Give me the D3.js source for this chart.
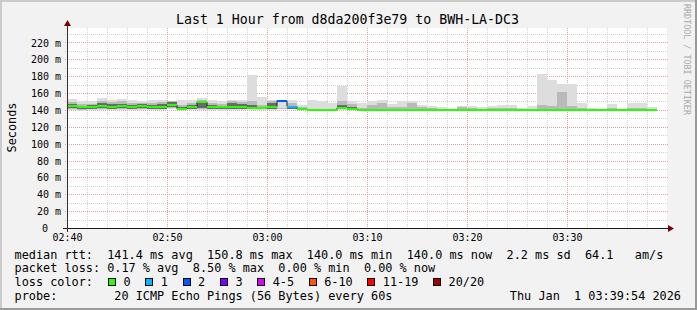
<!DOCTYPE html>
<html><head><meta charset="utf-8">
<script src="https://cdn.jsdelivr.net/npm/d3@7"></script>
<style>
html,body{margin:0;padding:0;background:#f2f2f2;}
svg{display:block;}
text{font-family:"DejaVu Sans Mono",monospace;fill:#000;white-space:pre;}
</style></head><body>
<svg id="c" width="697" height="310" xml:space="preserve"></svg>
<script>
// ---------------- data ----------------
const titleText = "Last 1 Hour from d8da200f3e79 to BWH-LA-DC3";
const yAxisTitle = "Seconds";
const watermark = "RRDTOOL / TOBI OETIKER";
const startTime = new Date(2026, 0, 1, 2, 40);
const endTime = new Date(2026, 0, 1, 3, 40);
const yMaxMs = 237.1;
const yTicks = [0, 20, 40, 60, 80, 100, 120, 140, 160, 180, 200, 220];
const xTickLabels = ["02:40", "02:50", "03:00", "03:10", "03:20", "03:30"];

// one value per minute, 02:40 .. 03:38 (ms)
const medianRtt = [144.5,143.0,143.5,145.0,144.0,144.5,143.0,144.5,143.0,144.0,
                   146.0,141.5,144.0,149.5,144.0,144.0,144.0,144.0,142.5,142.0,
                   143.5,150.8,144.0,141.5,140.3,140.0,140.0,142.5,141.5,140.0,
                   140.0,140.0,140.0,140.0,140.0,140.0,140.0,140.0,140.0,140.0,
                   140.0,140.0,140.0,140.0,140.0,140.0,140.0,140.0,140.0,140.0,
                   140.0,140.0,140.0,140.0,140.0,140.0,140.0,140.0,140.0];
const lostPings = [0,0,0,0,0,0,0,0,0,0, 0,0,0,0,0,0,0,0,0,0,
                   0,2,1,0,0,0,0,0,0,0, 0,0,0,0,0,0,0,0,0,0,
                   0,0,0,0,0,0,0,0,0,0, 0,0,0,0,0,0,0,0,0];
const smokeMax = [153,151,150.5,154,151.5,153,151.5,151,151.5,151.5,
                  151,151.5,151.5,154,151.5,150,151.5,151.5,181,155,
                  151.5,151,151.5,146,152,150.5,148,168,150.5,148.6,
                  150.5,151.7,147,150,150.5,146,144.7,143,141.5,145,
                  145,143.8,145,146,146,142,145,183,175.5,170.7,
                  170.7,148.6,142,140.5,147,140.5,148.6,148.6,143.5];
const smokeMin = [140,138.5,139.5,140,140,140,139.5,140,140,140,
                  140.5,139.5,140,140,140,138.5,140,140,140,139.5,
                  140,140.5,140.5,139.8,139.5,139.5,139.5,140,139.8,139.6,
                  139.6,139.6,139.6,139.6,139.6,139.6,139.6,139.6,139.6,139.6,
                  139.6,139.6,139.6,139.6,139.6,139.6,139.6,139.6,139.6,139.6,
                  139.6,139.6,139.6,139.6,139.6,139.6,139.6,139.6,139.6];
const smokeP90 = [149,147,147.5,150,149,150,148.5,148,148.5,149,
                  150,146,148,152,148,147,150,149,150,146,
                  150,142,148,144,141,141,141,150,147,142,
                  146,148,143,144,148,143,142,141,140.5,143,
                  142,141,142,142,142,141,141,146,145,160.8,
                  145,142,141,140.2,142,140.2,142,142,141];
const smokeP10 = [141,140,141,141,141,141,141,141,141,141,
                  142,140,141,141.5,141,140.5,140.5,141,141,140.5,
                  140.5,141,141.5,140.5,139.8,139.8,139.8,141,140.5,139.8,
                  139.8,139.8,139.8,139.8,139.8,139.8,139.8,139.8,139.8,139.8,
                  139.8,139.8,139.8,139.8,139.8,139.8,139.8,139.8,139.8,139.8,
                  139.8,139.8,139.8,139.8,139.8,139.8,139.8,139.8,139.8];
const smokeP75 = [146.5,145,146,148,147,147.5,146,146.5,146,146.5,
                  149,143,146,150,146,145,148,147,146,144,
                  148,141.5,142.5,141.5,140.3,140,140,146,144,140,
                  140,140,140,140,140,140,140,140,140,140,
                  140,140,140,140,140,140,140,140,140,140,
                  140,140,140,140,140,140,140,140,140];
const smokeP25 = [142,141,141.5,142,141.5,142,141.5,142,141.5,141.5,
                  143,140.5,141.5,142.5,141.5,141,141,141.5,141.5,141,
                  141,141,141.5,140.5,140.3,140,140,141.5,141,140,
                  140,140,140,140,140,140,140,140,140,140,
                  140,140,140,140,140,140,140,140,140,140,
                  140,140,140,140,140,140,140,140,140];

const lossLabels = ["0", "1", "2", "3", "4-5", "6-10", "11-19", "20/20"];
const lossColors = ["#26ff00", "#00b8ff", "#0059ff", "#7e00ff", "#dd00ff", "#ff5500", "#ff0000", "#a10000"];
const lossUpper = [0, 1, 2, 3, 5, 10, 19, 20];

const legendLine1 = "median rtt:  141.4 ms avg  150.8 ms max  140.0 ms min  140.0 ms now  2.2 ms sd  64.1   am/s";
const legendLine2 = "packet loss: 0.17 % avg  8.50 % max  0.00 % min  0.00 % now";
const legendLine3 = "loss color:";
const legendLine4 = "probe:        20 ICMP Echo Pings (56 Bytes) every 60s";
const dateText = "Thu Jan  1 03:39:54 2026";

// ---------------- drawing ----------------
const W = 697, H = 310;
const L = 67, R = 667, T = 28, B = 228;
const svg = d3.select("#c");

svg.append("rect").attr("x", 0).attr("y", 0).attr("width", W).attr("height", H).attr("fill", "#f2f2f2");
// 3d border
svg.append("rect").attr("x", 0).attr("y", 0).attr("width", W).attr("height", 2).attr("fill", "#cbcbcb");
svg.append("rect").attr("x", 0).attr("y", 0).attr("width", 2).attr("height", H).attr("fill", "#cbcbcb");
svg.append("rect").attr("x", 0).attr("y", H - 2).attr("width", W).attr("height", 2).attr("fill", "#999999");
svg.append("rect").attr("x", W - 2).attr("y", 0).attr("width", 2).attr("height", H).attr("fill", "#999999");

const times = d3.range(medianRtt.length).map(i => d3.timeMinute.offset(startTime, i));
const x = d3.scaleTime().domain([startTime, endTime]).range([L, R]);
const y = d3.scaleLinear().domain([0, yMaxMs]).range([B, T]);

svg.append("rect").attr("x", L).attr("y", T).attr("width", R - L).attr("height", B - T).attr("fill", "#ffffff");

// grid
const g = svg.append("g").attr("shape-rendering", "crispEdges");
const minorV = d3.timeMinute.every(2).range(d3.timeMinute.offset(startTime, 2), endTime)
  .filter(t => t.getMinutes() % 10 !== 0);
const majorV = d3.timeMinute.every(10).range(startTime, endTime);
minorV.forEach(t => {
  const xx = Math.round(x(t)) + 0.5;
  g.append("line").attr("x1", xx).attr("x2", xx).attr("y1", T).attr("y2", B)
    .attr("stroke", "#d2d2d2").attr("stroke-dasharray", "1,1");
});
const minorH = d3.range(10, yMaxMs, 10).filter(v => v % 20 !== 0);
minorH.forEach(v => {
  const yy = Math.round(y(v)) + 0.5;
  g.append("line").attr("x1", L - 2).attr("x2", R + 2).attr("y1", yy).attr("y2", yy)
    .attr("stroke", "#d2d2d2").attr("stroke-dasharray", "1,1");
});
majorV.forEach(t => {
  const xx = Math.round(x(t)) + 0.5;
  g.append("line").attr("x1", xx).attr("x2", xx).attr("y1", T).attr("y2", B)
    .attr("stroke", "#e3a3a3").attr("stroke-dasharray", "1,1");
});
yTicks.filter(v => v > 0).forEach(v => {
  const yy = Math.round(y(v)) + 0.5;
  g.append("line").attr("x1", L - 2).attr("x2", R + 2).attr("y1", yy).attr("y2", yy)
    .attr("stroke", "#e3a3a3").attr("stroke-dasharray", "1,1");
});

// smoke
const sm = svg.append("g").attr("shape-rendering", "crispEdges");
const bands = [[smokeMin, smokeMax, "#dddddd"], [smokeP10, smokeP90, "#b9b9b9"], [smokeP25, smokeP75, "#6a6a6a"]];
bands.forEach(([lo, hi, col]) => {
  sm.selectAll(null).data(times).enter().append("rect")
    .attr("x", (t) => x(t))
    .attr("width", (t) => x(d3.timeMinute.offset(t, 1)) - x(t))
    .attr("y", (t, i) => y(hi[i]))
    .attr("height", (t, i) => Math.max(0, y(lo[i]) - y(hi[i])))
    .attr("fill", col);
});

// median step line (black)
const stepPts = times.map((t, i) => [x(t), y(medianRtt[i])]);
stepPts.push([x(d3.timeMinute.offset(times[times.length - 1], 1)), y(medianRtt[medianRtt.length - 1])]);
svg.append("path").attr("d", d3.line().curve(d3.curveStepAfter)(stepPts))
  .attr("fill", "none").attr("stroke", "#202020").attr("stroke-width", 1);

// median coloured by loss
function lossIdx(n) { return lossUpper.findIndex(u => n <= u); }
svg.append("g").attr("shape-rendering", "crispEdges").selectAll("rect").data(times).enter().append("rect")
  .attr("x", t => x(t))
  .attr("width", t => x(d3.timeMinute.offset(t, 1)) - x(t))
  .attr("y", (t, i) => y(medianRtt[i]) - 1)
  .attr("height", 2)
  .attr("fill", (t, i) => lossColors[lossIdx(lostPings[i])]);

// axes
const ax = svg.append("g");
ax.append("line").attr("x1", L - 4).attr("x2", R + 4).attr("y1", B + 0.5).attr("y2", B + 0.5)
  .attr("stroke", "#1a1a1a").attr("shape-rendering", "crispEdges");
ax.append("line").attr("x1", L + 0.5).attr("x2", L + 0.5).attr("y1", B + 4).attr("y2", T - 4)
  .attr("stroke", "#3a2a2a").attr("shape-rendering", "crispEdges");
ax.append("path").attr("d", `M${L - 3},${T - 2}L${L + 4},${T - 2}L${L + 0.5},${T - 8}Z`).attr("fill", "#7f0000");
ax.append("path").attr("d", `M${R + 1},${B - 3}L${R + 1},${B + 4}L${R + 7},${B + 0.5}Z`).attr("fill", "#7f0000");

// y labels
const yAxis = d3.axisLeft(y).tickValues(yTicks).tickSize(0).tickPadding(0)
  .tickFormat(v => v === 0 ? "0" : v + " m");
const yg = svg.append("g").attr("transform", `translate(${L - 6},0)`).call(yAxis);
yg.select(".domain").remove();
yg.selectAll("text").attr("font-family", "DejaVu Sans Mono").attr("font-size", 10)
  .attr("x", v => v === 0 ? -13 : 0).attr("dy", "0.36em").style("fill", "#000");

// x labels
const xAxis = d3.axisBottom(x).tickValues(xTickLabels.map(s => {
  const [h, m] = s.split(":").map(Number); return new Date(2026, 0, 1, h, m);
})).tickSize(0).tickPadding(0).tickFormat(d3.timeFormat("%H:%M"));
const xg = svg.append("g").attr("transform", `translate(0,${B})`).call(xAxis);
xg.select(".domain").remove();
xg.selectAll("text").attr("font-family", "DejaVu Sans Mono").attr("font-size", 10)
  .attr("y", 12.7).attr("dy", 0).style("fill", "#000");

// title
svg.append("text").attr("x", 347.5).attr("y", 23.5).attr("text-anchor", "middle")
  .attr("font-size", 13.25).text(titleText);
// y title
svg.append("text").attr("transform", "translate(15.5,127.5) rotate(-90)").attr("text-anchor", "middle")
  .attr("font-size", 11.85).text(yAxisTitle);
// watermark
svg.append("text").attr("transform", "translate(683.5,4) rotate(90)").attr("text-anchor", "start")
  .attr("font-size", 8.4).style("fill", "#aaaaaa").text(watermark);

// legend
const fs = 11.85, lx = 14.5;
svg.append("text").attr("x", lx).attr("y", 258.5).attr("font-size", fs).text(legendLine1);
svg.append("text").attr("x", lx).attr("y", 272).attr("font-size", fs).text(legendLine2);
svg.append("text").attr("x", lx).attr("y", 286).attr("font-size", fs).text(legendLine3);
svg.append("text").attr("x", lx).attr("y", 299.5).attr("font-size", fs).text(legendLine4);
svg.append("text").attr("x", 681).attr("y", 299.5).attr("font-size", fs).attr("text-anchor", "end").text(dateText);

let bx = 108;
lossLabels.forEach((lab, i) => {
  svg.append("rect").attr("x", bx + 0.5).attr("y", 278.5).attr("width", 7).attr("height", 7)
    .attr("fill", lossColors[i]).attr("stroke", "#000").attr("shape-rendering", "crispEdges");
  svg.append("text").attr("x", bx + 15.5).attr("y", 286).attr("font-size", fs).text(lab);
  bx += 16 + (lab.length + 2) * 7.1;
});
</script>
</body></html>
